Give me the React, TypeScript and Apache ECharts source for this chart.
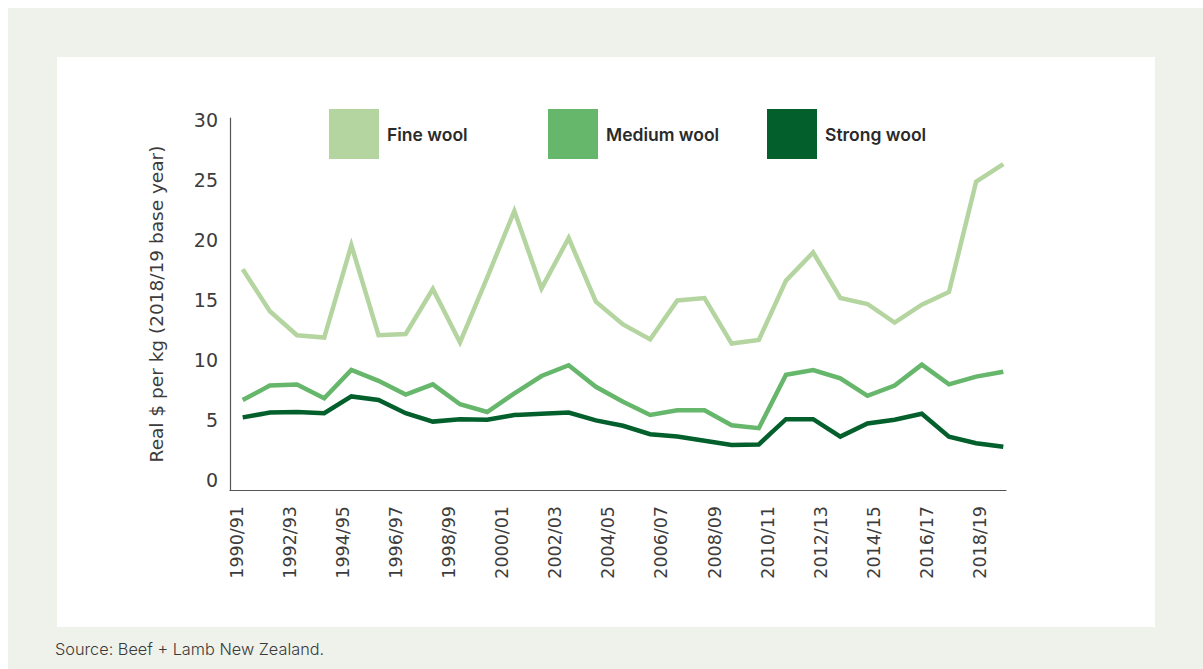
import React, { useEffect, useRef } from "react";
import * as echarts from "echarts";

const categories = [
  "1990/91", "1991/92", "1992/93", "1993/94", "1994/95", "1995/96", "1996/97", "1997/98",
  "1998/99", "1999/00", "2000/01", "2001/02", "2002/03", "2003/04", "2004/05", "2005/06",
  "2006/07", "2007/08", "2008/09", "2009/10", "2010/11", "2011/12", "2012/13", "2013/14",
  "2014/15", "2015/16", "2016/17", "2017/18", "2018/19",
];

const seriesNames = ["Fine wool", "Medium wool", "Strong wool"];
const seriesColors = ["#b5d5a0", "#66b66b", "#03602c"];

const fineWool = [
  18.4, 14.9, 12.9, 12.7, 20.4, 12.9, 13.0, 16.75, 12.3, 17.7, 23.25, 16.8, 21.0, 15.7, 13.8,
  12.55, 15.8, 16.0, 12.2, 12.5, 17.45, 19.8, 16.0, 15.5, 13.95, 15.45, 16.5, 25.7, 27.15,
];
const mediumWool = [
  7.5, 8.7, 8.8, 7.65, 10.0, 9.1, 7.95, 8.8, 7.15, 6.5, 8.05, 9.5, 10.4, 8.6, 7.35,
  6.25, 6.65, 6.65, 5.4, 5.15, 9.6, 10.0, 9.3, 7.85, 8.7, 10.45, 8.8, 9.45, 9.85,
];
const strongWool = [
  6.05, 6.45, 6.5, 6.4, 7.8, 7.5, 6.4, 5.7, 5.9, 5.85, 6.25, 6.35, 6.45, 5.8, 5.35,
  4.65, 4.45, 4.1, 3.75, 3.8, 5.9, 5.9, 4.45, 5.55, 5.85, 6.35, 4.45, 3.9, 3.6,
];
const seriesValues = [fineWool, mediumWool, strongWool];

const yTicks = { min: 0, max: 31, interval: 5 };
const yTitle = "Real $ per kg (2018/19 base year)";
const sourceText = "Source: Beef + Lamb New Zealand.";

const FONT = "Inter, 'Open Sans', sans-serif";
const AXIS_FONT = "'DejaVu Sans', Inter, sans-serif";
const TEXT = "#2a2a2a";
const AXIS_TEXT = "#3c3c3c";

export default function App() {
  const ref = useRef<HTMLDivElement>(null);

  useEffect(() => {
    if (!ref.current) return;
    const chart = echarts.init(ref.current, null, { renderer: "svg" });
    const top = 110;
    const height = 372;
    const hiddenY = (gridIndex: number) => ({
      type: "value",
      gridIndex,
      min: yTicks.min,
      max: yTicks.max,
      interval: yTicks.interval,
      show: false,
      splitLine: { show: false },
    });
    chart.setOption({
      animation: false,
      textStyle: { fontFamily: FONT },
      graphic: [
        {
          type: "rect",
          z: -10,
          silent: true,
          shape: { x: 49, y: 49, width: 1098, height: 570 },
          style: { fill: "#ffffff" },
        },
        {
          type: "text",
          left: 47,
          top: 633,
          style: { text: sourceText, fontSize: 16.3, fontWeight: 300, fontFamily: FONT, fill: "#3a3a3a" },
        },
      ],
      legend: seriesNames.map((name, i) => ({
        data: [name],
        left: [321, 540, 759][i],
        top: 101,
        padding: 0,
        icon: "rect",
        itemWidth: 50,
        itemHeight: 50,
        selectedMode: false,
        textStyle: {
          fontFamily: FONT,
          fontSize: 17.5,
          fontWeight: 600,
          color: TEXT,
          padding: [0, 0, 0, 3],
        },
      })),
      grid: [
        { left: 222, top, width: 776, height },
        { left: 234.7, top, width: 760.6, height },
        { left: 228.7, top, width: 743.3, height },
      ],
      xAxis: [
        {
          type: "category",
          gridIndex: 0,
          data: categories,
          boundaryGap: false,
          axisLine: { show: true, lineStyle: { color: "#555555", width: 1.2 } },
          axisTick: { show: false },
          axisLabel: { show: false },
        },
        {
          type: "category",
          gridIndex: 1,
          data: categories,
          boundaryGap: false,
          show: false,
        },
        {
          type: "category",
          gridIndex: 2,
          data: categories,
          boundaryGap: false,
          axisLine: { show: false },
          axisTick: { show: false },
          axisLabel: {
            interval: 1,
            rotate: 90,
            margin: 16,
            fontSize: 17.5,
            fontFamily: AXIS_FONT,
            color: AXIS_TEXT,
          },
        },
      ],
      yAxis: [
        {
          type: "value",
          gridIndex: 0,
          min: yTicks.min,
          max: yTicks.max,
          interval: yTicks.interval,
          name: yTitle,
          nameLocation: "middle",
          nameGap: 64,
          nameTextStyle: { fontSize: 18.5, fontFamily: AXIS_FONT, color: AXIS_TEXT },
          axisLine: { show: true, lineStyle: { color: "#555555", width: 1.2 } },
          axisTick: { show: false },
          splitLine: { show: false },
          axisLabel: {
            margin: 12,
            fontSize: 19,
            fontFamily: AXIS_FONT,
            color: AXIS_TEXT,
            verticalAlign: "bottom",
            lineHeight: 20,
            formatter: (v: number) => (v % yTicks.interval === 0 ? String(v) : ""),
          },
        },
        hiddenY(1),
        hiddenY(2),
      ],
      series: seriesNames.map((name, i) => ({
        name,
        type: "line",
        xAxisIndex: 1,
        yAxisIndex: 1,
        data: seriesValues[i],
        color: seriesColors[i],
        itemStyle: { color: seriesColors[i] },
        lineStyle: { color: seriesColors[i], width: 4.5, join: "miter" },
        symbol: "none",
        showSymbol: false,
        z: 3 - i,
      })),
    });
    return () => chart.dispose();
  }, []);

  return (
    <div
      style={{
        position: "fixed",
        left: 8,
        top: 8,
        width: 1195,
        height: 661,
        background: "#eff1eb",
      }}
    >
      <div ref={ref} style={{ width: 1195, height: 661 }} />
    </div>
  );
}
